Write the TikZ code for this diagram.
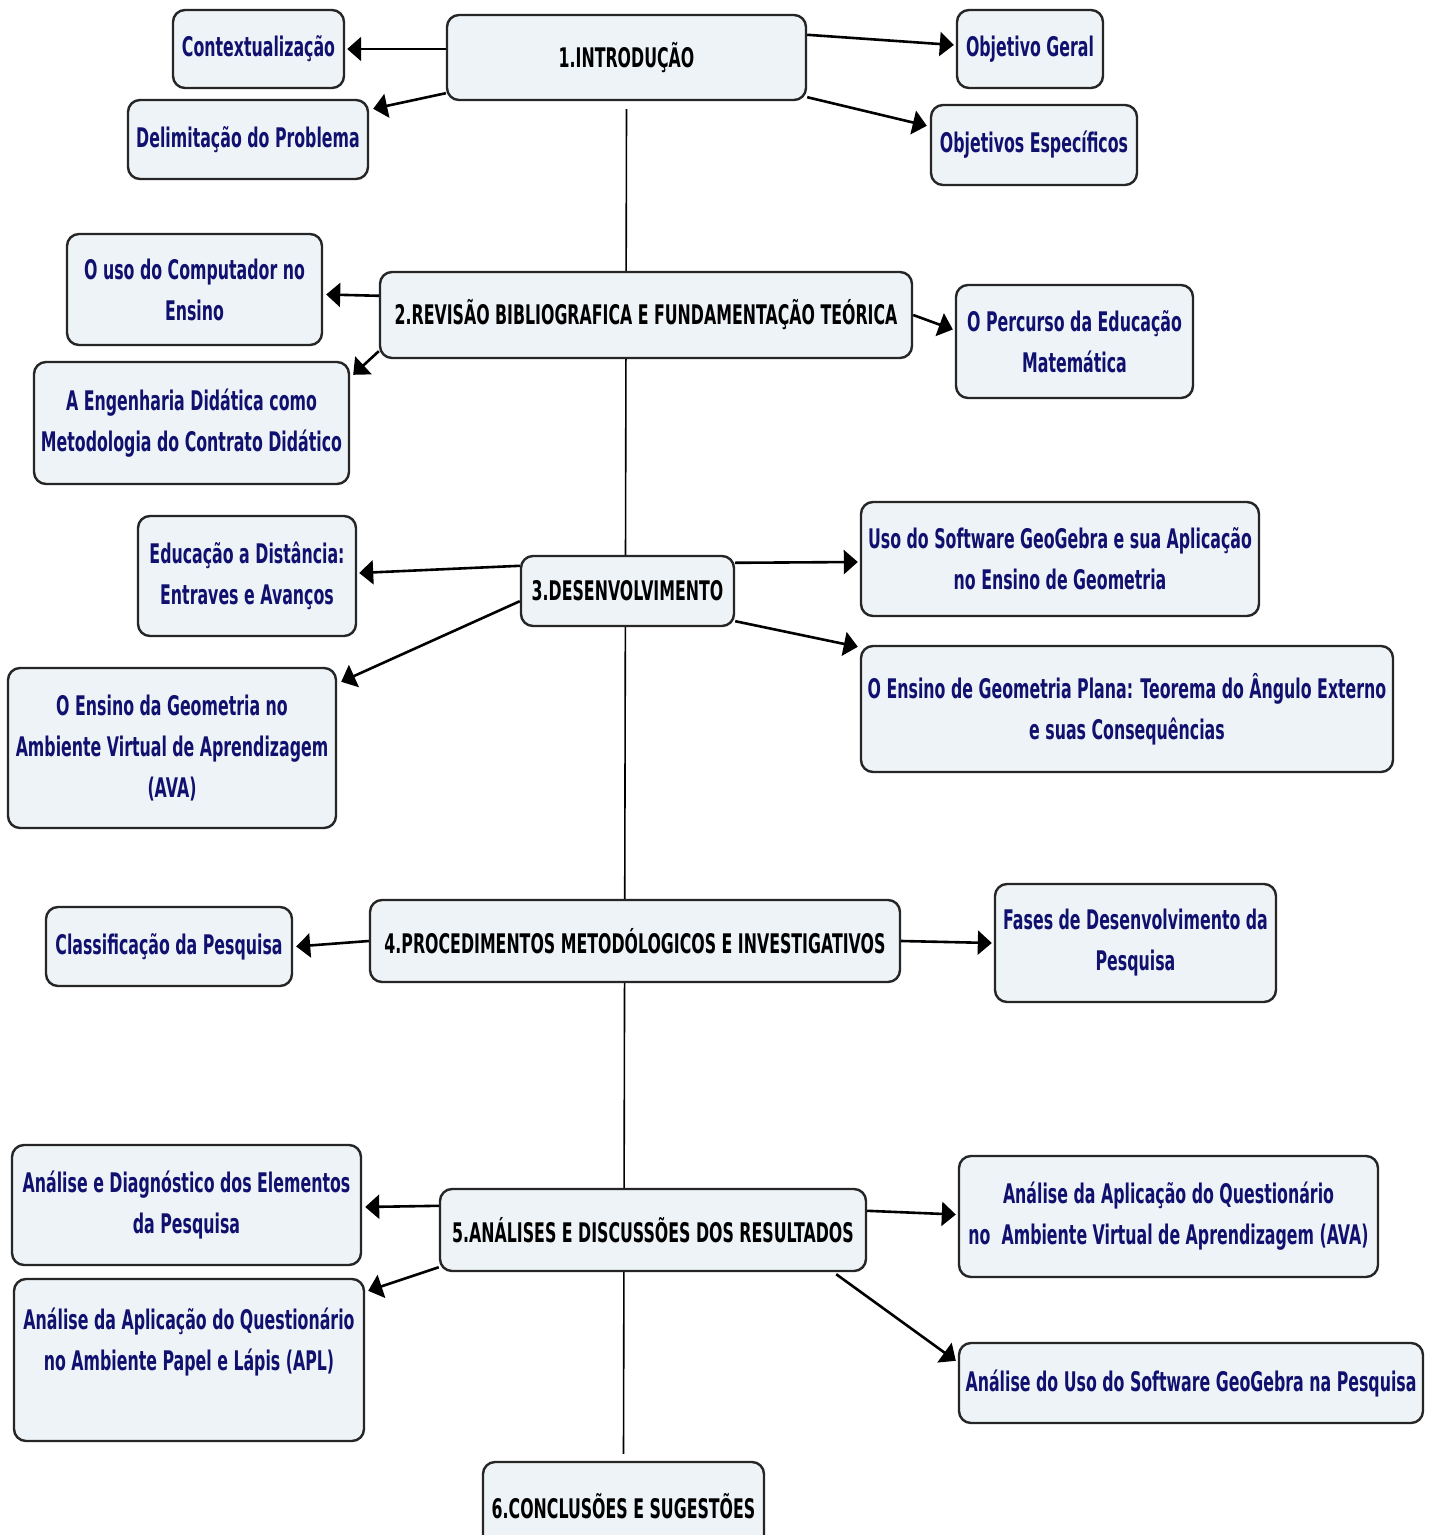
\documentclass[tikz,border=0pt]{standalone}
\usepackage{fontspec}
\newfontfamily\mapfont{DejaVu Sans}[FakeStretch=0.585]
\usetikzlibrary{arrows.meta, calc, backgrounds}

\definecolor{boxfill}{HTML}{EEF3F7}
\definecolor{boxtext}{HTML}{10106E}

\tikzset{
    topic/.style={draw=black!85, line width=1.2pt, fill=boxfill, rounded corners=6pt,
        inner sep=0pt, align=center,
        font=\mapfont\bfseries\fontsize{13.5}{20.5}\selectfont},
    main/.style={topic, text=black},
    sub/.style={topic, text=boxtext},
    boxsize/.style 2 args={minimum width=#1*0.5pt, minimum height=#2*0.5pt},
}

\begin{document}
\begin{tikzpicture}[
    x=0.5pt,
    y=-0.5pt,
    ->,
    >={Triangle[length=7pt,width=12pt]},
    every edge/.style={draw, line width=1.3pt},
]
    \useasboundingbox (0,0) rectangle (1435,1535);

    % main topics
    \node[main, boxsize={359}{85}]  (intro) at (626.5,57.5) {1.INTRODUÇÃO};
    \node[main, boxsize={532}{86}]  (rev)   at (646,315)    {2.REVISÃO BIBLIOGRAFICA E FUNDAMENTAÇÃO TEÓRICA};
    \node[main, boxsize={213}{70}]  (dev)   at (627.5,591)  {3.DESENVOLVIMENTO};
    \node[main, boxsize={530}{82}]  (proc)  at (635,941)    {4.PROCEDIMENTOS METODÓLOGICOS E INVESTIGATIVOS};
    \node[main, boxsize={426}{82}]  (anal)  at (653,1230)   {5.ANÁLISES E DISCUSSÕES DOS RESULTADOS};
    \node[main, boxsize={281}{88}]  (concl) at (623.5,1506) {6.CONCLUSÕES E SUGESTÕES};

    % 1
    \node[sub, boxsize={171}{78}]   (ctx)    at (258.5,49)    {Contextualização};
    \node[sub, boxsize={240}{79}]   (delim)  at (248,139.5)   {Delimitação do Problema};
    \node[sub, boxsize={146}{78}]   (objg)   at (1030,49)     {Objetivo Geral};
    \node[sub, boxsize={206}{80}]   (obje)   at (1034,145)    {Objetivos Específicos};

    % 2
    \node[sub, boxsize={255}{111}]  (comp)   at (194.5,289.5) {O uso do Computador no\\Ensino};
    \node[sub, boxsize={315}{122}]  (eng)    at (191.5,423)   {A Engenharia Didática como\\Metodologia do Contrato Didático};
    \node[sub, boxsize={237}{113}]  (perc)   at (1074.5,341.5){O Percurso da Educação\\Matemática};

    % 3
    \node[sub, boxsize={218}{120}]  (ead)    at (247,576)     {Educação a Distância:\\Entraves e Avanços};
    \node[sub, boxsize={328}{160}]  (ensava) at (172,748)     {O Ensino da Geometria no\\Ambiente Virtual de Aprendizagem\\(AVA)};
    \node[sub, boxsize={398}{114}]  (geo)    at (1060,559)    {Uso do Software GeoGebra e sua Aplicação\\no Ensino de Geometria};
    \node[sub, boxsize={532}{126}]  (plana)  at (1127,709)    {O Ensino de Geometria Plana: Teorema do Ângulo Externo\\e suas Consequências};

    % 4
    \node[sub, boxsize={246}{79}]   (class)  at (169,946.5)   {Classificação da Pesquisa};
    \node[sub, boxsize={281}{118}]  (fases)  at (1135.5,943)  {Fases de Desenvolvimento da\\Pesquisa};

    % 5
    \node[sub, boxsize={349}{120}]  (diag)   at (186.5,1205)  {Análise e Diagnóstico dos Elementos\\da Pesquisa};
    \node[sub, boxsize={350}{162}]  (apl)    at (189,1360)    {Análise da Aplicação do Questionário\\no Ambiente Papel e Lápis (APL)\\~};
    \node[sub, boxsize={419}{121}]  (avaq)   at (1168.5,1216.5) {Análise da Aplicação do Questionário\\no~ Ambiente Virtual de Aprendizagem (AVA)};
    \node[sub, boxsize={464}{80}]   (ggpesq) at (1191,1383)   {Análise do Uso do Software GeoGebra na Pesquisa};

    \begin{scope}[on background layer]
        \fill[white] (0,0) rectangle (1435,1535);
        \draw[-, line width=0.8pt] ($(intro.south)+(0,8)$) -- ($(concl.north)+(0,-7)$);
    \end{scope}

    \path
        ($(intro.west |- ctx.east)$)        edge ($(ctx.east)+(2,0)$)
        ($(intro.south west)+(0,-8)$)       edge ($(delim.north east)+(4,10)$)
        ($(intro.north east)+(0,21)$)       edge ($(objg.west)+(-2,-4)$)
        ($(intro.south east)+(0,-4)$)       edge ($(obje.north west)+(-3,22)$)

        ($(rev.north west)+(0,25)$)         edge ($(comp.east)+(3,5)$)
        ($(rev.south west)+(0,-8)$)         edge ($(eng.north east)+(3,14)$)
        (rev.east)                          edge ($(perc.west)+(-2,-12)$)

        ($(dev.north west)+(0,11)$)         edge ($(ead.east)+(2,-3)$)
        ($(dev.south west)+(0,-26)$)        edge ($(ensava.north east)+(4,15)$)
        ($(dev.north east)+(0,8)$)          edge ($(geo.west)+(-2,3)$)
        ($(dev.south east)+(0,-6)$)         edge ($(plana.north west)+(-2,2)$)

        (proc.west)                         edge ($(class.east)+(3,0)$)
        (proc.east)                         edge ($(fases.west)+(-2,0)$)

        ($(anal.north west)+(0,18)$)        edge ($(diag.east)+(3,2)$)
        ($(anal.south west)+(0,-5)$)        edge ($(apl.north east)+(3,13)$)
        ($(anal.north east)+(0,23)$)        edge ($(avaq.west)+(-2,-2)$)
        ($(anal.south east)+(-31,2)$)       edge ($(ggpesq.north west)+(-2,19)$)
    ;
\end{tikzpicture}
\end{document}
